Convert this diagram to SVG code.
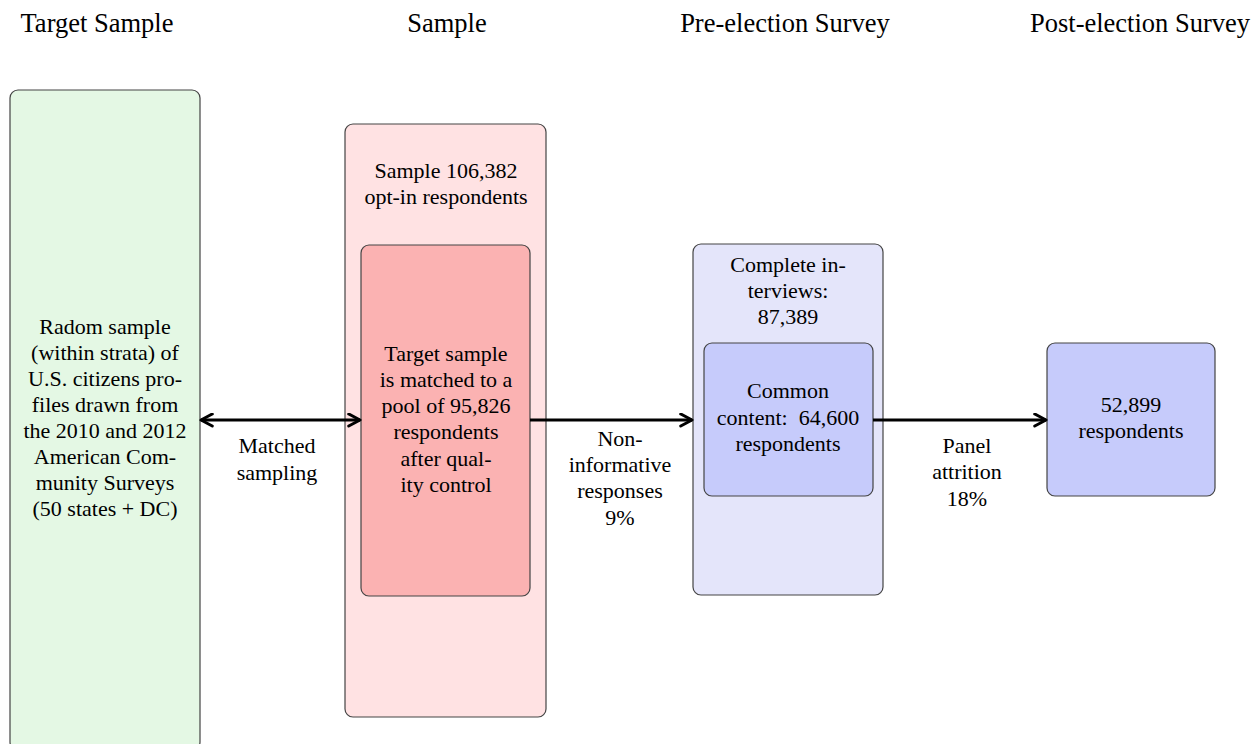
<svg xmlns="http://www.w3.org/2000/svg" width="1251" height="744" viewBox="0 0 1251 744">
<defs>
<style>
text{font-family:"Liberation Serif","Times New Roman",serif;fill:#000;text-anchor:middle}
.h{font-size:26.5px}
.t{font-size:22px}
.box{stroke:#444;stroke-width:1.2}
.conn{stroke:#000;stroke-width:3;fill:none}
</style>
<marker id="ah" viewBox="0 0 10 10" refX="8.5" refY="5" markerWidth="5" markerHeight="5" orient="auto-start-reverse" markerUnits="strokeWidth">
<path d="M1,1 L8.5,5 L1,9" fill="none" stroke="#000" stroke-width="2" stroke-linecap="round" stroke-linejoin="round"/>
</marker>
</defs>
<rect width="1251" height="744" fill="#fff"/>
<g id="headers">
<text class="h" x="97" y="32">Target Sample</text>
<text class="h" x="447" y="32">Sample</text>
<text class="h" x="785" y="32">Pre-election Survey</text>
<text class="h" x="1140" y="32">Post-election Survey</text>
</g>
<g id="target">
<rect class="box" x="10" y="90" width="190" height="660" rx="8" fill="#e4f8e4"/>
<text class="t" x="105"><tspan x="105" y="334">Radom sample</tspan><tspan x="105" y="360">(within strata) of</tspan><tspan x="105" y="386">U.S. citizens pro-</tspan><tspan x="105" y="412">files drawn from</tspan><tspan x="105" y="438">the 2010 and 2012</tspan><tspan x="105" y="464">American Com-</tspan><tspan x="105" y="490">munity Surveys</tspan><tspan x="105" y="516">(50 states + DC)</tspan></text>
</g>
<g id="sample">
<rect class="box" x="345" y="124" width="201" height="593" rx="8" fill="#ffe2e3"/>
<text class="t"><tspan x="446" y="178">Sample 106,382</tspan><tspan x="446" y="204">opt-in respondents</tspan></text>
</g>
<g id="matched">
<rect class="box" x="361" y="245" width="169" height="351" rx="8" fill="#fbb2b2"/>
<text class="t"><tspan x="446" y="361">Target sample</tspan><tspan x="446" y="387">is matched to a</tspan><tspan x="446" y="413">pool of 95,826</tspan><tspan x="446" y="439">respondents</tspan><tspan x="446" y="466">after qual-</tspan><tspan x="446" y="492">ity control</tspan></text>
</g>
<g id="pre">
<rect class="box" x="693" y="244" width="190" height="351" rx="8" fill="#e4e5fa"/>
<text class="t"><tspan x="788" y="272">Complete in-</tspan><tspan x="788" y="298">terviews:</tspan><tspan x="788" y="324">87,389</tspan></text>
</g>
<g id="common">
<rect class="box" x="704" y="343" width="169" height="153" rx="8" fill="#c6cbfb"/>
<text class="t"><tspan x="788" y="398">Common</tspan><tspan x="788" y="425">content:&#160; 64,600</tspan><tspan x="788" y="451">respondents</tspan></text>
</g>
<g id="post">
<rect class="box" x="1047" y="343" width="168" height="153" rx="8" fill="#c6cbfb"/>
<text class="t"><tspan x="1131" y="412">52,899</tspan><tspan x="1131" y="438">respondents</tspan></text>
</g>
<g id="connectors">
<line class="conn" x1="201" y1="420" x2="360" y2="420" marker-start="url(#ah)" marker-end="url(#ah)"/>
<line class="conn" x1="530" y1="420" x2="692" y2="420" marker-end="url(#ah)"/>
<line class="conn" x1="873" y1="420" x2="1046" y2="420" marker-end="url(#ah)"/>
<text class="t"><tspan x="277" y="453">Matched</tspan><tspan x="277" y="480">sampling</tspan></text>
<text class="t"><tspan x="620" y="446">Non-</tspan><tspan x="620" y="472">informative</tspan><tspan x="620" y="498">responses</tspan><tspan x="620" y="525">9%</tspan></text>
<text class="t"><tspan x="967" y="453">Panel</tspan><tspan x="967" y="479">attrition</tspan><tspan x="967" y="506">18%</tspan></text>
</g>
</svg>
